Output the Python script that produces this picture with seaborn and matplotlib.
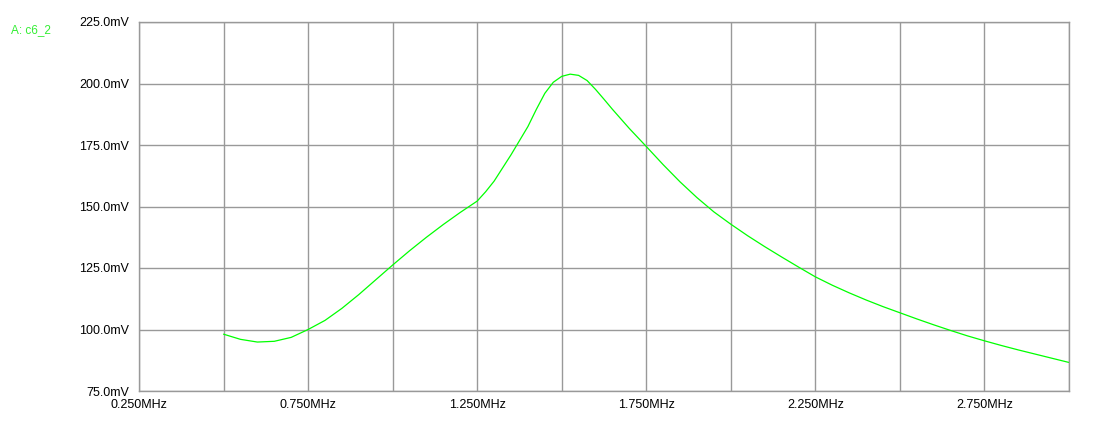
import matplotlib
matplotlib.use("Agg")
import matplotlib.pyplot as plt
import matplotlib.ticker as mticker
import pandas as pd
import numpy as np
import seaborn as sns

# frequency (MHz) and voltage (mV)
freq_mhz = [0.50, 0.55, 0.60, 0.65, 0.70, 0.75, 0.80, 0.85, 0.90, 0.95,
            1.00, 1.05, 1.10, 1.15, 1.20, 1.25, 1.275, 1.30, 1.35, 1.40,
            1.425, 1.45, 1.475, 1.50, 1.525, 1.55, 1.575, 1.60, 1.625, 1.65,
            1.70, 1.75, 1.80, 1.85, 1.90, 1.95, 2.00, 2.05, 2.10, 2.15,
            2.20, 2.25, 2.30, 2.35, 2.40, 2.45, 2.50, 2.55, 2.60, 2.65,
            2.70, 2.75, 2.80, 2.85, 2.90, 2.95, 3.00]
volt_mv = [98.1, 96.0, 94.9, 95.2, 96.8, 100.0, 103.7, 108.6, 114.2, 120.2,
           126.2, 132.0, 137.5, 142.7, 147.6, 152.2, 156.0, 160.3, 171.0, 182.5,
           189.5, 196.0, 200.5, 202.9, 203.8, 203.3, 201.2, 197.6, 193.6, 189.5,
           181.7, 174.4, 167.0, 160.0, 153.6, 147.8, 142.8, 138.1, 133.7, 129.5,
           125.4, 121.4, 118.0, 114.9, 112.0, 109.3, 106.8, 104.3, 101.9, 99.6,
           97.4, 95.4, 93.5, 91.7, 90.0, 88.3, 86.6]
trace_name = "A: c6_2"

x_labels_at = [0.25, 0.75, 1.25, 1.75, 2.25, 2.75]
y_ticks = [75, 100, 125, 150, 175, 200, 225]

df = pd.DataFrame({"freq": freq_mhz, "volt": volt_mv})

sns.set_style("white")
plt.rcParams["font.family"] = ["Liberation Sans", "DejaVu Sans"]

fig = plt.figure(figsize=(10.94, 4.33), dpi=100)
ax = fig.add_axes([139 / 1094, 42 / 433, 930 / 1094, 369 / 433])

sns.lineplot(data=df, x="freq", y="volt", ax=ax, color="#00ff00", linewidth=0.9)

grid_col = "#999999"
ax.set_xlim(0.25, 3.0)
ax.set_ylim(75, 225)

ax.xaxis.set_major_locator(mticker.MultipleLocator(0.25))
ax.xaxis.set_minor_locator(mticker.MultipleLocator(0.05))
ax.xaxis.set_major_formatter(mticker.FuncFormatter(
    lambda v, p: f"{v:.3f}MHz" if any(abs(v - l) < 1e-6 for l in x_labels_at) else ""))
ax.set_yticks(y_ticks)
ax.yaxis.set_minor_locator(mticker.MultipleLocator(5))
ax.yaxis.set_major_formatter(mticker.FuncFormatter(lambda v, p: f"{v:.1f}mV"))

ax.grid(True, which="major", color=grid_col, linewidth=1.0)
ax.tick_params(axis="both", which="major", length=0, labelsize=9, colors="black")
ax.tick_params(axis="x", which="major", pad=6)
ax.tick_params(axis="y", which="major", pad=7)
ax.tick_params(axis="both", which="minor", direction="in", length=7, width=0.8, color=grid_col)
for s in ax.spines.values():
    s.set_color(grid_col)
    s.set_linewidth(1.0)

ax.set_xlabel("")
ax.set_ylabel("")
fig.text(11 / 1094, 1 - 30 / 433, trace_name, color="#33ee33", fontsize=8.5, va="center", ha="left")

fig.savefig("out.png", dpi=100)
